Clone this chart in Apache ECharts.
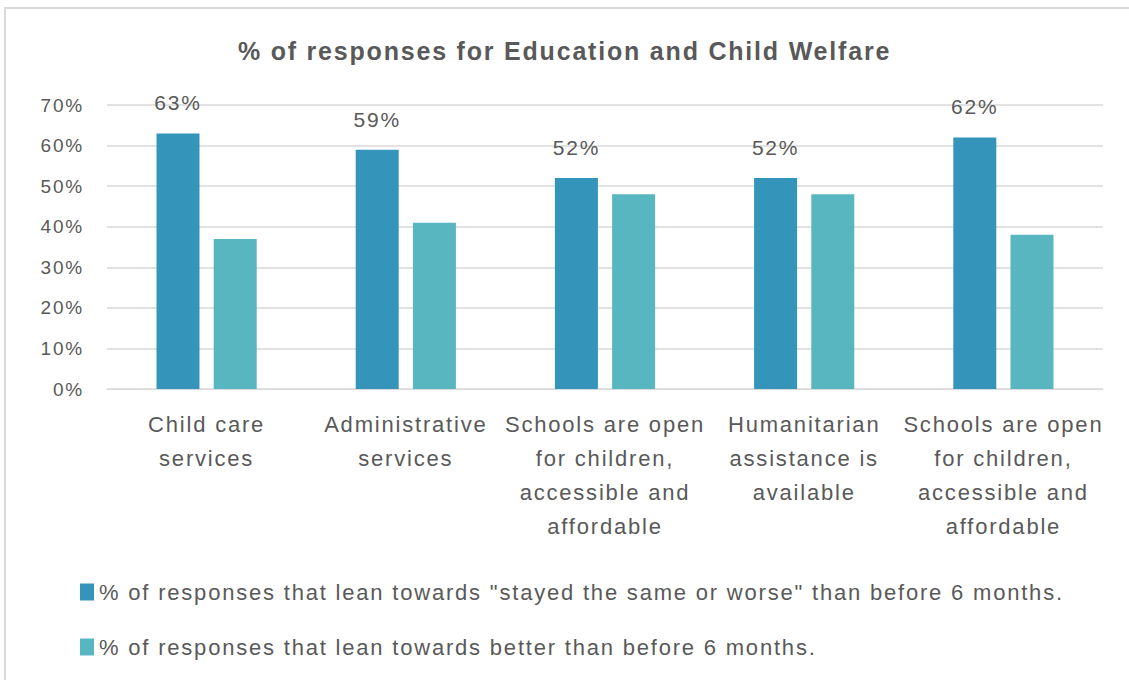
<!DOCTYPE html>
<html>
<head>
<meta charset="utf-8">
<script src="https://cdn.jsdelivr.net/npm/echarts@6/dist/echarts.min.js"></script>
<style>
  html, body { margin: 0; padding: 0; background: #fff; }
  #chart { width: 1129px; height: 680px; }
  /* slightly spread-out lettering for all chart text */
  #chart text { letter-spacing: 1.8px; }
</style>
</head>
<body>
<div id="chart"></div>
<script>
// Categories (line breaks as they wrap under the axis)
const categories = [
  'Child care\nservices',
  'Administrative\nservices',
  'Schools are open\nfor children,\naccessible and\naffordable',
  'Humanitarian\nassistance is\navailable',
  'Schools are open\nfor children,\naccessible and\naffordable'
];
const seriesNames = [
  '% of responses that lean towards "stayed the same or worse" than before 6 months.',
  '% of responses that lean towards better than before 6 months.'
];
const sameOrWorse = [63, 59, 52, 52, 62];
const better = [37, 41, 48, 48, 38];
const yTicks = [0, 10, 20, 30, 40, 50, 60, 70];

const font = 'Liberation Sans, Arial, sans-serif';
const textColor = '#595959';

const chart = echarts.init(document.getElementById('chart'), null, { renderer: 'svg' });
chart.setOption({
  backgroundColor: '#fff',
  animation: false,
  title: {
    text: '% of responses for Education and Child Welfare',
    left: 'center',
    top: 33,
    textStyle: { fontFamily: font, fontSize: 25, fontWeight: 'bold', color: textColor }
  },
  graphic: [{
    type: 'rect',
    shape: { x: 5, y: 8, width: 1130, height: 680 },
    style: { fill: 'none', stroke: '#d9d9d9', lineWidth: 2 },
    silent: true
  }],
  grid: { left: 107, right: 26, top: 105, bottom: 291, containLabel: false },
  legend: {
    orient: 'vertical',
    left: 75,
    top: 576,
    itemGap: 33,
    itemWidth: 14,
    itemHeight: 17,
    icon: 'rect',
    textStyle: { fontFamily: font, fontSize: 22, color: textColor },
    data: seriesNames
  },
  xAxis: {
    type: 'category',
    data: categories,
    axisLine: { show: true, lineStyle: { color: '#d9d9d9', width: 1 } },
    axisTick: { show: false },
    axisLabel: {
      interval: 0,
      margin: 18,
      fontFamily: font,
      fontSize: 22,
      lineHeight: 34,
      color: textColor
    }
  },
  yAxis: {
    type: 'value',
    min: yTicks[0],
    max: yTicks[yTicks.length - 1],
    interval: 10,
    axisLine: { show: false },
    axisTick: { show: false },
    splitLine: { lineStyle: { color: '#d9d9d9', width: 1.5 } },
    axisLabel: {
      margin: 23,
      fontFamily: font,
      fontSize: 19,
      color: textColor,
      formatter: v => v + '%'
    }
  },
  series: [
    {
      name: seriesNames[0],
      type: 'bar',
      data: sameOrWorse,
      barWidth: 43,
      barGap: '33%',
      itemStyle: { color: '#3494BA' },
      label: {
        show: true,
        position: 'top',
        distance: 20,
        fontFamily: font,
        fontSize: 21,
        color: textColor,
        formatter: p => p.value + '%'
      }
    },
    {
      name: seriesNames[1],
      type: 'bar',
      data: better,
      barWidth: 43,
      barGap: '33%',
      itemStyle: { color: '#58B6C0' }
    }
  ]
});
</script>
</body>
</html>
